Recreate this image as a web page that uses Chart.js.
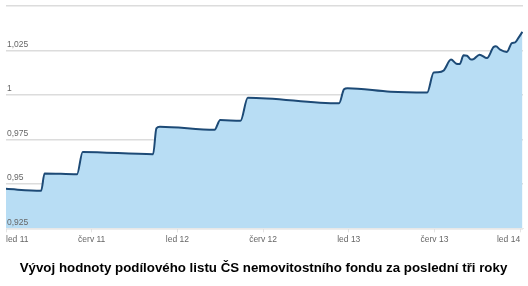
<!DOCTYPE html>
<html>
<head>
<meta charset="utf-8">
<script src="https://cdn.jsdelivr.net/npm/chart.js@4/dist/chart.umd.min.js"></script>
<style>
  html, body { margin: 0; padding: 0; background: #fff; }
  #wrap { width: 528px; height: 286px; }
</style>
</head>
<body>
<div id="wrap"><canvas id="c" width="528" height="286"></canvas></div>
<script>
// Months since January 2011
const months = [0, 2.46, 2.70, 4.97, 5.37, 10.30, 10.53, 10.77, 14.60, 15.00, 16.42, 16.93, 23.32, 23.67, 23.91, 26.93, 29.49, 29.95, 30.23, 30.65, 31.16, 31.53, 31.77, 32.04, 32.28, 32.56, 32.74, 33.16, 33.68, 34.14, 34.30, 34.60, 35.07, 35.42, 35.65, 35.88, 36.16];
const values = [0.9472, 0.9461, 0.9559, 0.9554, 0.9680, 0.9667, 0.9812, 0.9821, 0.9804, 0.9859, 0.9855, 0.9985, 0.9953, 1.0032, 1.0038, 1.0018, 1.0014, 1.0127, 1.0128, 1.0138, 1.0199, 1.0176, 1.0174, 1.0223, 1.0221, 1.0199, 1.0202, 1.0227, 1.0208, 1.0270, 1.0274, 1.0255, 1.0242, 1.0292, 1.0296, 1.0321, 1.0355];
const xTickValues = [0, 6, 12, 18, 24, 30, 36];
const xTickLabels = ['led 11', 'červ 11', 'led 12', 'červ 12', 'led 13', 'červ 13', 'led 14'];
const yTickValues = [0.925, 0.95, 0.975, 1.0, 1.025, 1.05];
const yTickLabels = ['0,925', '0,95', '0,975', '1', '1,025', ''];
const titleText = 'Vývoj hodnoty podílového listu ČS nemovitostního fondu za poslední tři roky';

const points = months.map((m, i) => ({ x: m, y: values[i] }));
const FONT = '"Liberation Sans", Arial, sans-serif';
const yLabel = (v) => { const i = yTickValues.findIndex(t => Math.abs(t - v) < 1e-9); return i >= 0 ? yTickLabels[i] : ''; };

new Chart(document.getElementById('c'), {
  type: 'line',
  data: {
    datasets: [{
      data: points,
      borderColor: '#1d4a76',
      borderWidth: 2,
      backgroundColor: '#b8ddf4',
      fill: 'start',
      pointRadius: 0,
      cubicInterpolationMode: 'monotone'
    }]
  },
  options: {
    responsive: false,
    animation: false,
    devicePixelRatio: 1,
    layout: { padding: { left: 4, right: 5, top: 5, bottom: 0 } },
    plugins: {
      legend: { display: false },
      tooltip: { enabled: false },
      title: {
        display: true,
        position: 'bottom',
        text: titleText,
        color: '#000',
        font: { family: FONT, size: 13.3, weight: 'bold', lineHeight: 1.2 },
        padding: { top: 13.5, bottom: 10 }
      }
    },
    scales: {
      x: {
        type: 'linear',
        min: 0,
        max: 36.2,
        afterBuildTicks: axis => { axis.ticks = xTickValues.map(v => ({ value: v })); },
        ticks: {
          align: 'inner',
          maxRotation: 0,
          autoSkip: false,
          padding: 2,
          color: '#666',
          font: { family: FONT, size: 8.5 },
          callback: (v) => { const i = xTickValues.indexOf(v); return i >= 0 ? xTickLabels[i] : ''; }
        },
        grid: { drawOnChartArea: false, drawTicks: true, tickLength: 4, color: '#e4e4e4' },
        border: { display: true, color: '#e8e8e8', dash: [2, 2] }
      },
      y: {
        min: 0.925,
        max: 1.05,
        afterBuildTicks: axis => { axis.ticks = yTickValues.map(v => ({ value: v })); },
        ticks: {
          mirror: true,
          z: 1,
          padding: 1,
          labelOffset: -6,
          color: '#666',
          font: { family: FONT, size: 8.5 },
          callback: yLabel
        },
        grid: { drawTicks: false, color: '#dcdcdc', lineWidth: 1.5 },
        border: { display: false }
      }
    }
  }
});
</script>
</body>
</html>
